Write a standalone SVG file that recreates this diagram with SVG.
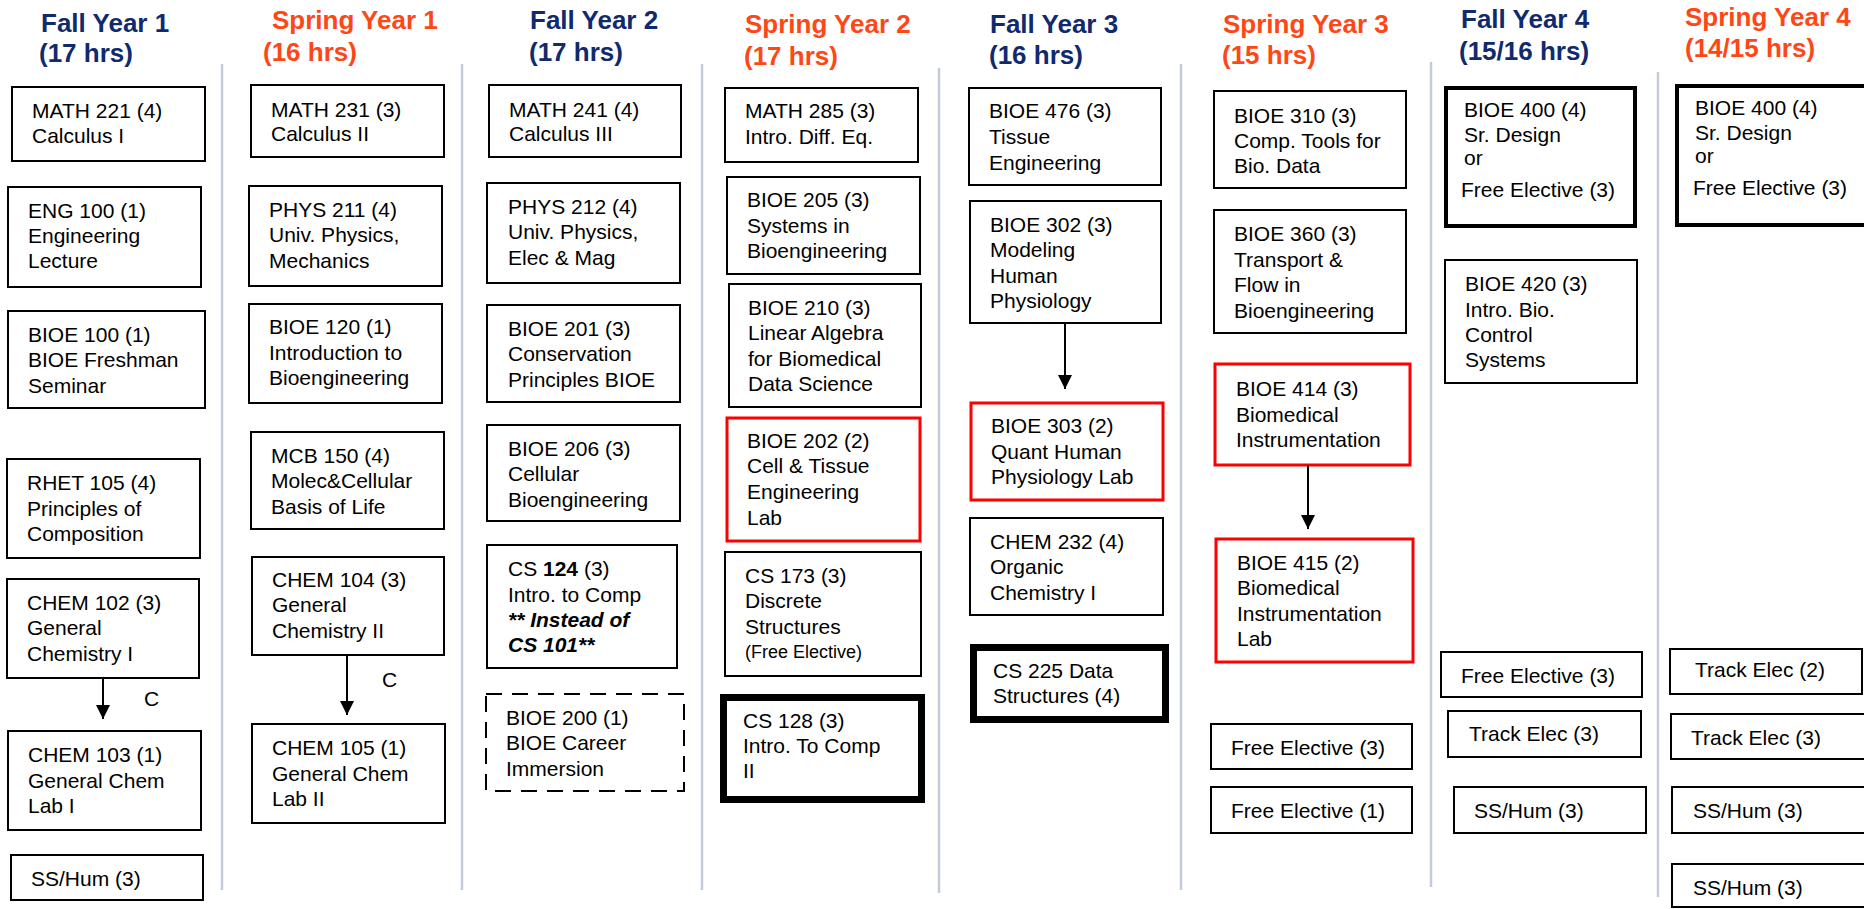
<svg xmlns="http://www.w3.org/2000/svg" width="1864" height="909" viewBox="0 0 1864 909">
<defs>
<style>
.bg{fill:#fff}
.b{fill:#fff;stroke:#000;stroke-width:2}
.r{fill:#fff;stroke:#f00;stroke-width:3}
.k{fill:#fff;stroke:#000;stroke-width:7}
.m{fill:#fff;stroke:#000;stroke-width:4}
.d{fill:#fff;stroke:#000;stroke-width:2;stroke-dasharray:16 10}
.t{font-family:"Liberation Sans",Arial,sans-serif;font-size:21px;fill:#000}
.s{font-size:18px}
.hf{font-family:"Liberation Sans",Arial,sans-serif;font-size:26px;font-weight:bold;fill:#102a6e}
.hs{font-family:"Liberation Sans",Arial,sans-serif;font-size:26px;font-weight:bold;fill:#ff4716}
.div{stroke:#c3cbdb;stroke-width:2.5}
.a{stroke:#000;stroke-width:2;fill:none}
</style>
<marker id="ah" markerUnits="userSpaceOnUse" markerWidth="14" markerHeight="14" refX="14" refY="7" orient="auto">
<path d="M0,0 L14,7 L0,14 z" fill="#000"/>
</marker>
</defs>
<rect class="bg" x="0" y="0" width="1864" height="909"/>

<g id="dividers">
<line class="div" x1="222" y1="64" x2="222" y2="890"/>
<line class="div" x1="462" y1="64" x2="462" y2="890"/>
<line class="div" x1="702" y1="64" x2="702" y2="890"/>
<line class="div" x1="939" y1="68" x2="939" y2="893"/>
<line class="div" x1="1181" y1="64" x2="1181" y2="890"/>
<line class="div" x1="1431" y1="62" x2="1431" y2="887"/>
<line class="div" x1="1658" y1="72" x2="1658" y2="897"/>
</g>

<g id="headers">
<text class="hf"><tspan x="41" y="32">Fall Year 1</tspan><tspan x="39" y="62">(17 hrs)</tspan></text>
<text class="hs"><tspan x="272" y="29">Spring Year 1</tspan><tspan x="263" y="61">(16 hrs)</tspan></text>
<text class="hf"><tspan x="530" y="29">Fall Year 2</tspan><tspan x="529" y="61">(17 hrs)</tspan></text>
<text class="hs"><tspan x="745" y="33">Spring Year 2</tspan><tspan x="744" y="65">(17 hrs)</tspan></text>
<text class="hf"><tspan x="990" y="33">Fall Year 3</tspan><tspan x="989" y="64">(16 hrs)</tspan></text>
<text class="hs"><tspan x="1223" y="33">Spring Year 3</tspan><tspan x="1222" y="64">(15 hrs)</tspan></text>
<text class="hf"><tspan x="1461" y="28">Fall Year 4</tspan><tspan x="1459" y="60">(15/16 hrs)</tspan></text>
<text class="hs"><tspan x="1685" y="26">Spring Year 4</tspan><tspan x="1685" y="57">(14/15 hrs)</tspan></text>
</g>

<!-- Fall Year 1 -->
<g id="math221"><rect class="b" x="12" y="87" width="193" height="74"/><text class="t"><tspan x="32" y="118">MATH 221 (4)</tspan><tspan x="32" y="143">Calculus I</tspan></text></g>
<g id="eng100"><rect class="b" x="8" y="187" width="193" height="100"/><text class="t"><tspan x="28" y="218">ENG 100 (1)</tspan><tspan x="28" y="243">Engineering</tspan><tspan x="28" y="268">Lecture</tspan></text></g>
<g id="bioe100"><rect class="b" x="8" y="311" width="197" height="97"/><text class="t"><tspan x="28" y="342">BIOE 100 (1)</tspan><tspan x="28" y="367">BIOE Freshman</tspan><tspan x="28" y="393">Seminar</tspan></text></g>
<g id="rhet105"><rect class="b" x="7" y="459" width="193" height="99"/><text class="t"><tspan x="27" y="490">RHET 105 (4)</tspan><tspan x="27" y="516">Principles of</tspan><tspan x="27" y="541">Composition</tspan></text></g>
<g id="chem102"><rect class="b" x="7" y="579" width="192" height="99"/><text class="t"><tspan x="27" y="610">CHEM 102 (3)</tspan><tspan x="27" y="635">General</tspan><tspan x="27" y="661">Chemistry I</tspan></text></g>
<g id="chem103"><rect class="b" x="8" y="731" width="193" height="99"/><text class="t"><tspan x="28" y="762">CHEM 103 (1)</tspan><tspan x="28" y="788">General Chem</tspan><tspan x="28" y="813">Lab I</tspan></text></g>
<g id="sshum1"><rect class="b" x="11" y="855" width="192" height="45"/><text class="t" x="31" y="886">SS/Hum (3)</text></g>

<!-- Spring Year 1 -->
<g id="math231"><rect class="b" x="251" y="85" width="193" height="72"/><text class="t"><tspan x="271" y="117">MATH 231 (3)</tspan><tspan x="271" y="141">Calculus II</tspan></text></g>
<g id="phys211"><rect class="b" x="249" y="186" width="193" height="100"/><text class="t"><tspan x="269" y="217">PHYS 211 (4)</tspan><tspan x="269" y="242">Univ. Physics,</tspan><tspan x="269" y="268">Mechanics</tspan></text></g>
<g id="bioe120"><rect class="b" x="249" y="304" width="193" height="99"/><text class="t"><tspan x="269" y="334">BIOE 120 (1)</tspan><tspan x="269" y="360">Introduction to</tspan><tspan x="269" y="385">Bioengineering</tspan></text></g>
<g id="mcb150"><rect class="b" x="251" y="432" width="193" height="97"/><text class="t"><tspan x="271" y="463">MCB 150 (4)</tspan><tspan x="271" y="488">Molec&amp;Cellular</tspan><tspan x="271" y="514">Basis of Life</tspan></text></g>
<g id="chem104"><rect class="b" x="252" y="557" width="192" height="98"/><text class="t"><tspan x="272" y="587">CHEM 104 (3)</tspan><tspan x="272" y="612">General</tspan><tspan x="272" y="638">Chemistry II</tspan></text></g>
<g id="chem105"><rect class="b" x="252" y="724" width="193" height="99"/><text class="t"><tspan x="272" y="755">CHEM 105 (1)</tspan><tspan x="272" y="781">General Chem</tspan><tspan x="272" y="806">Lab II</tspan></text></g>

<!-- Fall Year 2 -->
<g id="math241"><rect class="b" x="489" y="85" width="192" height="72"/><text class="t"><tspan x="509" y="117">MATH 241 (4)</tspan><tspan x="509" y="141">Calculus III</tspan></text></g>
<g id="phys212"><rect class="b" x="487" y="183" width="193" height="100"/><text class="t"><tspan x="508" y="214">PHYS 212 (4)</tspan><tspan x="508" y="239">Univ. Physics,</tspan><tspan x="508" y="265">Elec &amp; Mag</tspan></text></g>
<g id="bioe201"><rect class="b" x="487" y="305" width="193" height="97"/><text class="t"><tspan x="508" y="336">BIOE 201 (3)</tspan><tspan x="508" y="361">Conservation</tspan><tspan x="508" y="387">Principles BIOE</tspan></text></g>
<g id="bioe206"><rect class="b" x="487" y="425" width="193" height="96"/><text class="t"><tspan x="508" y="456">BIOE 206 (3)</tspan><tspan x="508" y="481">Cellular</tspan><tspan x="508" y="507">Bioengineering</tspan></text></g>
<g id="cs124"><rect class="b" x="487" y="545" width="190" height="123"/><text class="t"><tspan x="508" y="576">CS <tspan font-weight="bold">124</tspan> (3)</tspan><tspan x="508" y="602">Intro. to Comp</tspan><tspan x="508" y="627" font-weight="bold" font-style="italic">** Instead of</tspan><tspan x="508" y="652" font-weight="bold" font-style="italic">CS 101**</tspan></text></g>
<g id="bioe200"><rect class="d" x="486" y="694" width="198" height="97"/><text class="t"><tspan x="506" y="725">BIOE 200 (1)</tspan><tspan x="506" y="750">BIOE Career</tspan><tspan x="506" y="776">Immersion</tspan></text></g>

<!-- Spring Year 2 -->
<g id="math285"><rect class="b" x="725" y="88" width="193" height="74"/><text class="t"><tspan x="745" y="118">MATH 285 (3)</tspan><tspan x="745" y="144">Intro. Diff. Eq.</tspan></text></g>
<g id="bioe205"><rect class="b" x="727" y="177" width="193" height="97"/><text class="t"><tspan x="747" y="207">BIOE 205 (3)</tspan><tspan x="747" y="233">Systems in</tspan><tspan x="747" y="258">Bioengineering</tspan></text></g>
<g id="bioe210"><rect class="b" x="729" y="284" width="192" height="123"/><text class="t"><tspan x="748" y="315">BIOE 210 (3)</tspan><tspan x="748" y="340">Linear Algebra</tspan><tspan x="748" y="366">for Biomedical</tspan><tspan x="748" y="391">Data Science</tspan></text></g>
<g id="bioe202"><rect class="r" x="727" y="418" width="193" height="123"/><text class="t"><tspan x="747" y="448">BIOE 202 (2)</tspan><tspan x="747" y="473">Cell &amp; Tissue</tspan><tspan x="747" y="499">Engineering</tspan><tspan x="747" y="525">Lab</tspan></text></g>
<g id="cs173"><rect class="b" x="725" y="552" width="196" height="124"/><text class="t"><tspan x="745" y="583">CS 173 (3)</tspan><tspan x="745" y="608">Discrete</tspan><tspan x="745" y="634">Structures</tspan><tspan x="745" y="658" class="s">(Free Elective)</tspan></text></g>
<g id="cs128"><rect class="k" x="723.5" y="697.5" width="198" height="102"/><text class="t"><tspan x="743" y="728">CS 128 (3)</tspan><tspan x="743" y="753">Intro. To Comp</tspan><tspan x="743" y="778">II</tspan></text></g>

<!-- Fall Year 3 -->
<g id="bioe476"><rect class="b" x="969" y="88" width="192" height="97"/><text class="t"><tspan x="989" y="118">BIOE 476 (3)</tspan><tspan x="989" y="144">Tissue</tspan><tspan x="989" y="170">Engineering</tspan></text></g>
<g id="bioe302"><rect class="b" x="970" y="201" width="191" height="122"/><text class="t"><tspan x="990" y="232">BIOE 302 (3)</tspan><tspan x="990" y="257">Modeling</tspan><tspan x="990" y="283">Human</tspan><tspan x="990" y="308">Physiology</tspan></text></g>
<g id="bioe303"><rect class="r" x="971" y="403" width="192" height="97"/><text class="t"><tspan x="991" y="433">BIOE 303 (2)</tspan><tspan x="991" y="459">Quant Human</tspan><tspan x="991" y="484">Physiology Lab</tspan></text></g>
<g id="chem232"><rect class="b" x="970" y="518" width="193" height="97"/><text class="t"><tspan x="990" y="549">CHEM 232 (4)</tspan><tspan x="990" y="574">Organic</tspan><tspan x="990" y="600">Chemistry I</tspan></text></g>
<g id="cs225"><rect class="k" x="973.5" y="647.5" width="192" height="72"/><text class="t"><tspan x="993" y="678">CS 225 Data</tspan><tspan x="993" y="703">Structures (4)</tspan></text></g>

<!-- Spring Year 3 -->
<g id="bioe310"><rect class="b" x="1214" y="91" width="192" height="97"/><text class="t"><tspan x="1234" y="123">BIOE 310 (3)</tspan><tspan x="1234" y="148">Comp. Tools for</tspan><tspan x="1234" y="173">Bio. Data</tspan></text></g>
<g id="bioe360"><rect class="b" x="1214" y="210" width="192" height="123"/><text class="t"><tspan x="1234" y="241">BIOE 360 (3)</tspan><tspan x="1234" y="267">Transport &amp;</tspan><tspan x="1234" y="292">Flow in</tspan><tspan x="1234" y="318">Bioengineering</tspan></text></g>
<g id="bioe414"><rect class="r" x="1215" y="364" width="195" height="101"/><text class="t"><tspan x="1236" y="396">BIOE 414 (3)</tspan><tspan x="1236" y="422">Biomedical</tspan><tspan x="1236" y="447">Instrumentation</tspan></text></g>
<g id="bioe415"><rect class="r" x="1216" y="539" width="197" height="123"/><text class="t"><tspan x="1237" y="570">BIOE 415 (2)</tspan><tspan x="1237" y="595">Biomedical</tspan><tspan x="1237" y="621">Instrumentation</tspan><tspan x="1237" y="646">Lab</tspan></text></g>
<g id="free3s3"><rect class="b" x="1211" y="724" width="201" height="45"/><text class="t" x="1231" y="755">Free Elective (3)</text></g>
<g id="free1s3"><rect class="b" x="1211" y="787" width="201" height="46"/><text class="t" x="1231" y="818">Free Elective (1)</text></g>

<!-- Fall Year 4 -->
<g id="bioe400f"><rect class="m" x="1446" y="88" width="189" height="138"/><text class="t"><tspan x="1464" y="117">BIOE 400 (4)</tspan><tspan x="1464" y="142">Sr. Design</tspan><tspan x="1464" y="165">or</tspan><tspan x="1461" y="197">Free Elective (3)</tspan></text></g>
<g id="bioe420"><rect class="b" x="1445" y="260" width="192" height="123"/><text class="t"><tspan x="1465" y="291">BIOE 420 (3)</tspan><tspan x="1465" y="317">Intro. Bio.</tspan><tspan x="1465" y="342">Control</tspan><tspan x="1465" y="367">Systems</tspan></text></g>
<g id="free3f4"><rect class="b" x="1441" y="652" width="201" height="45"/><text class="t" x="1461" y="683">Free Elective (3)</text></g>
<g id="track3f4"><rect class="b" x="1448" y="711" width="193" height="46"/><text class="t" x="1469" y="741">Track Elec (3)</text></g>
<g id="sshumf4"><rect class="b" x="1454" y="787" width="192" height="46"/><text class="t" x="1474" y="818">SS/Hum (3)</text></g>

<!-- Spring Year 4 -->
<g id="bioe400s"><rect class="m" x="1677" y="86" width="200" height="139"/><text class="t"><tspan x="1695" y="115">BIOE 400 (4)</tspan><tspan x="1695" y="140">Sr. Design</tspan><tspan x="1695" y="163">or</tspan><tspan x="1693" y="195">Free Elective (3)</tspan></text></g>
<g id="track2s4"><rect class="b" x="1670" y="649" width="192" height="45"/><text class="t" x="1695" y="677">Track Elec (2)</text></g>
<g id="track3s4"><rect class="b" x="1671" y="714" width="200" height="45"/><text class="t" x="1691" y="745">Track Elec (3)</text></g>
<g id="sshums4a"><rect class="b" x="1672" y="787" width="200" height="46"/><text class="t" x="1693" y="818">SS/Hum (3)</text></g>
<g id="sshums4b"><rect class="b" x="1672" y="864" width="200" height="43"/><text class="t" x="1693" y="895">SS/Hum (3)</text></g>

<g id="connectors">
<line class="a" x1="103" y1="678" x2="103" y2="719" marker-end="url(#ah)"/>
<text class="t" x="144" y="706">C</text>
<line class="a" x1="347" y1="655" x2="347" y2="715" marker-end="url(#ah)"/>
<text class="t" x="382" y="687">C</text>
<line class="a" x1="1065" y1="323" x2="1065" y2="389" marker-end="url(#ah)"/>
<line class="a" x1="1308" y1="465" x2="1308" y2="529" marker-end="url(#ah)"/>
</g>
</svg>
